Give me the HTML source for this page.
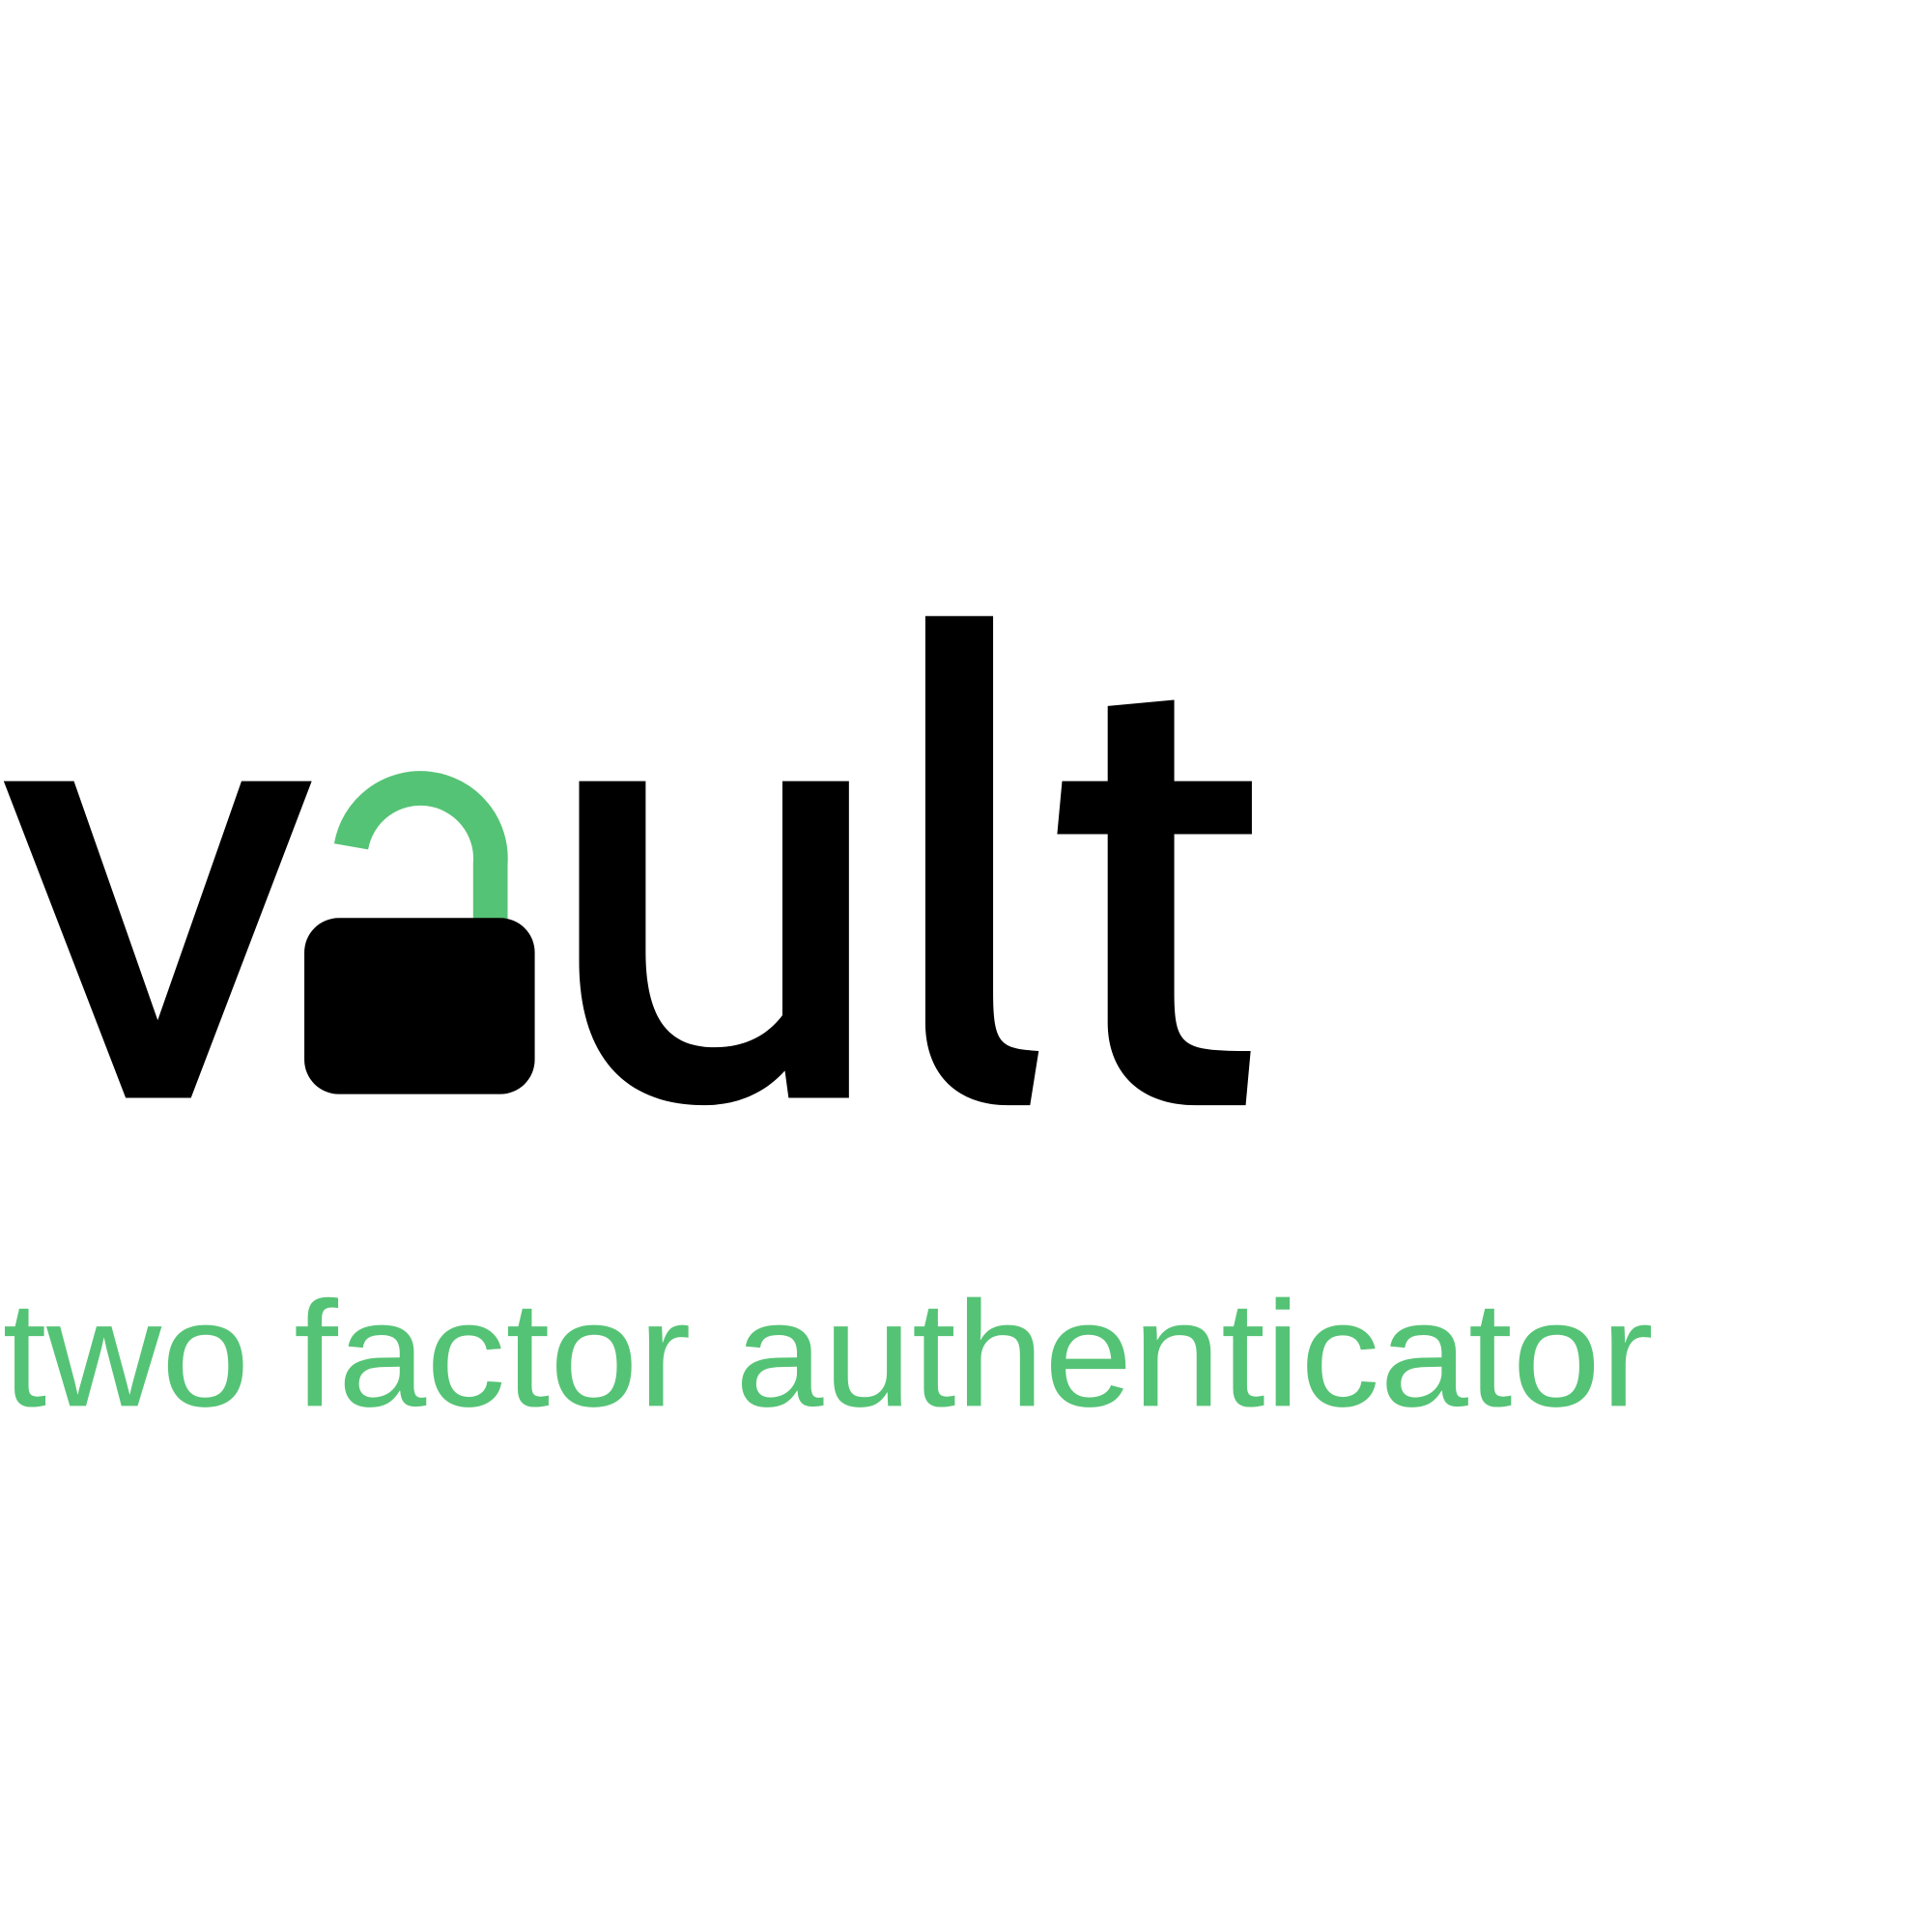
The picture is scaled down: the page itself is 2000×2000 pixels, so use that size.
<!DOCTYPE html>
<html><head><meta charset="utf-8"><style>
html,body{margin:0;padding:0;background:#fff;}
svg{display:block;}
</style></head><body>
<svg width="2000" height="2000" viewBox="0 0 1568 1568" xmlns="http://www.w3.org/2000/svg">
<rect width="1568" height="1568" fill="#fff"/>
<polygon points="3,634 60,634 128,828 196,634 253,634 155,891 102,891" fill="#000"/>
<path d="M398 752 L398 701 A57 57 0 0 0 285 687" fill="none" stroke="#55c375" stroke-width="28"/>
<rect x="247" y="745" width="187" height="143" rx="28" fill="#000"/>
<path d="M470 634 H524 V772 C524 830 545 850 580 850 C605 850 623 840 635 824 V634 H689 V891 H640 L637 869 C620 888 597 897 572 897 C505 897 470 855 470 780 Z" fill="#000"/>
<path d="M751 500 H806 V805 C806 848 812 851 843 853 L836 897 H818 C775 897 751 870 751 830 Z" fill="#000"/>
<path d="M899 573 L953 568 V634 H1016 V677 H953 V805 C953 850 960 853 1015 853 L1011 897 H970 C925 897 899 870 899 830 V677 H858 L862 634 H899 Z" fill="#000"/>
<text x="2" y="1141" font-family="'Liberation Sans', sans-serif" font-size="122" fill="#55c375" textLength="1340" lengthAdjust="spacingAndGlyphs">two factor authenticator</text>
</svg>
</body></html>
